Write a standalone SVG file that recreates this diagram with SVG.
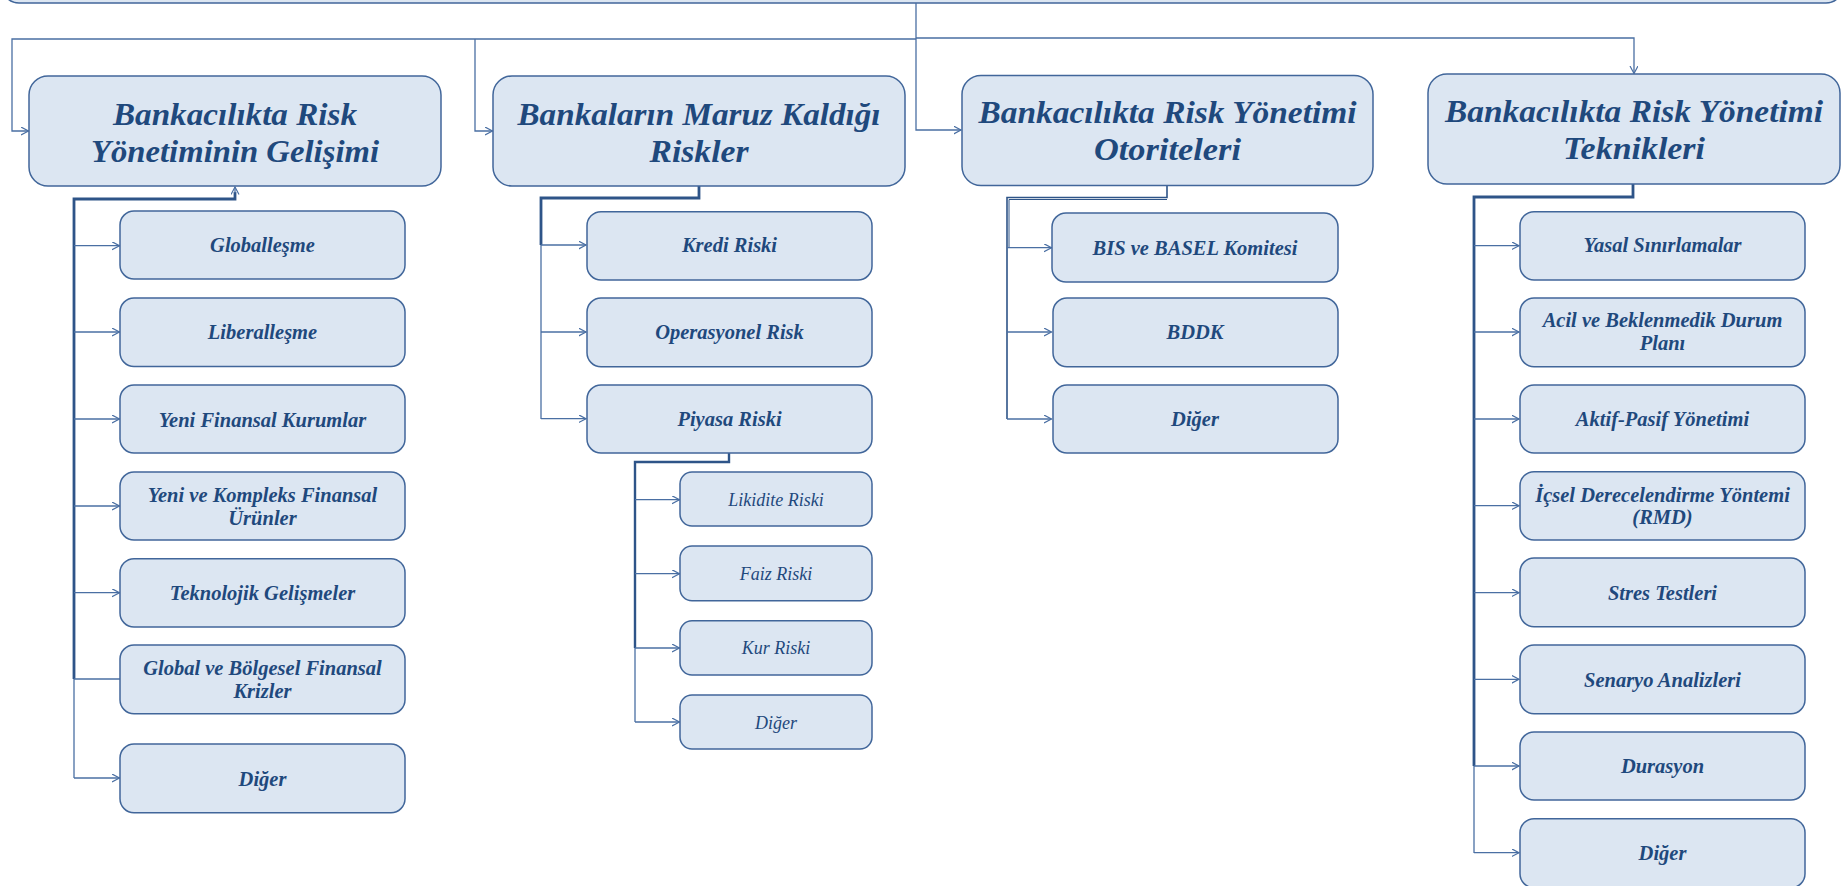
<svg xmlns="http://www.w3.org/2000/svg" width="1845" height="886" viewBox="0 0 1845 886">
<style>
.box{fill:#DCE6F2;stroke:#41669A;stroke-width:1.5}
.t{font-family:"Liberation Serif",serif;font-style:italic;font-weight:bold;fill:#1F497D;text-anchor:middle}
.h{font-size:32px}
.c{font-size:20.5px}
.s{font-size:18px;font-weight:normal}
.ln{fill:none;stroke:#4A6FA3;stroke-width:1.3}
.tk{fill:none;stroke:#2E5488;stroke-width:2.8}
.ar{marker-end:url(#arr)}
</style>
<defs>
<marker id="arr" markerUnits="userSpaceOnUse" markerWidth="10" markerHeight="10" refX="7.5" refY="4" orient="auto">
<path d="M0,0 L7.5,4 L0,8" fill="none" stroke="#4A6FA3" stroke-width="1.2"/>
</marker>
</defs>
<rect width="1845" height="886" fill="#ffffff"/>
<g id="top-node"><rect class="box" x="2" y="-60" width="1841" height="63" rx="17"/></g>
<g id="connectors">
<path class="ln ar" d="M916,3 V130 H961"/>
<path class="ln ar" d="M916,39 H12 V131 H28.5"/>
<path class="ln ar" d="M475,39 V131 H492.5"/>
<path class="ln ar" d="M916,38 H1634 V73.5"/>
<path class="tk" d="M74,679 V199 H235 V192"/>
<path class="ln ar" d="M235,193 V187"/>
<path class="ln" d="M74,679 V778"/>
<path class="ln ar" d="M74,245.7 H119.5"/>
<path class="ln ar" d="M74,332 H119.5"/>
<path class="ln ar" d="M74,419 H119.5"/>
<path class="ln ar" d="M74,506 H119.5"/>
<path class="ln ar" d="M74,592.7 H119.5"/>
<path class="ln" d="M74,679 H120"/>
<path class="ln ar" d="M74,778 H119.5"/>
<path class="tk" d="M699,186 V198 H541 V245"/>
<path class="ln" d="M541,245 V419"/>
<path class="ln ar" d="M541,245 H586"/>
<path class="ln ar" d="M541,332 H586"/>
<path class="ln ar" d="M541,418.7 H586"/>
<path class="tk" style="stroke-width:2.4" d="M729,453 V462 H635 V648"/>
<path class="ln" d="M635,648 V722"/>
<path class="ln ar" d="M635,499.7 H679.5"/>
<path class="ln ar" d="M635,573.7 H679.5"/>
<path class="ln ar" d="M635,648 H679.5"/>
<path class="ln ar" d="M635,722 H679.5"/>
<path class="ln" style="stroke:#2E5488;stroke-width:1.6" d="M1167,185 V197.5 H1007 V419"/>
<path class="ln" style="stroke:#2E5488;stroke-width:1" d="M1167,199.5 H1009 V247"/>
<path class="ln ar" d="M1007,247.7 H1051.5"/>
<path class="ln ar" d="M1007,332 H1051.5"/>
<path class="ln ar" d="M1007,419 H1051.5"/>
<path class="tk" d="M1633,183 V197 H1474 V766"/>
<path class="ln" d="M1474,766 V853"/>
<path class="ln ar" d="M1474,245.7 H1519"/>
<path class="ln ar" d="M1474,332 H1519"/>
<path class="ln ar" d="M1474,419 H1519"/>
<path class="ln ar" d="M1474,505.7 H1519"/>
<path class="ln ar" d="M1474,592.7 H1519"/>
<path class="ln ar" d="M1474,679.3 H1519"/>
<path class="ln ar" d="M1474,766 H1519"/>
<path class="ln ar" d="M1474,852.7 H1519"/>
</g>
<g id="n1"><rect class="box" x="29" y="76" width="412" height="110" rx="19"/>
<text class="t h" x="235" y="125" textLength="244" lengthAdjust="spacingAndGlyphs">Bankacılıkta Risk</text>
<text class="t h" x="235" y="162" textLength="288" lengthAdjust="spacingAndGlyphs">Yönetiminin Gelişimi</text></g>
<g id="n2"><rect class="box" x="493" y="76" width="412" height="110" rx="19"/>
<text class="t h" x="699" y="125" textLength="363" lengthAdjust="spacingAndGlyphs">Bankaların Maruz Kaldığı</text>
<text class="t h" x="699" y="162" textLength="99" lengthAdjust="spacingAndGlyphs">Riskler</text></g>
<g id="n3"><rect class="box" x="962" y="75.5" width="411" height="110" rx="19"/>
<text class="t h" x="1167.5" y="123" textLength="378" lengthAdjust="spacingAndGlyphs">Bankacılıkta Risk Yönetimi</text>
<text class="t h" x="1167.5" y="159.5" textLength="147" lengthAdjust="spacingAndGlyphs">Otoriteleri</text></g>
<g id="n4"><rect class="box" x="1428" y="74" width="412" height="110" rx="19"/>
<text class="t h" x="1634" y="122" textLength="378" lengthAdjust="spacingAndGlyphs">Bankacılıkta Risk Yönetimi</text>
<text class="t h" x="1634" y="158.5" textLength="142" lengthAdjust="spacingAndGlyphs">Teknikleri</text></g>
<g id="n1-1"><rect class="box" x="120" y="211" width="285" height="68" rx="14"/><text class="t c" x="262.5" y="251.7">Globalleşme</text></g>
<g id="n1-2"><rect class="box" x="120" y="298" width="285" height="68.5" rx="14"/><text class="t c" x="262.5" y="339.3">Liberalleşme</text></g>
<g id="n1-3"><rect class="box" x="120" y="385" width="285" height="68" rx="14"/><text class="t c" x="262.5" y="426.7">Yeni Finansal Kurumlar</text></g>
<g id="n1-4"><rect class="box" x="120" y="472" width="285" height="68" rx="14"/><text class="t c" x="262.5" y="501.7">Yeni ve Kompleks Finansal</text><text class="t c" x="262.5" y="525">Ürünler</text></g>
<g id="n1-5"><rect class="box" x="120" y="558.7" width="285" height="68.3" rx="14"/><text class="t c" x="262.5" y="600">Teknolojik Gelişmeler</text></g>
<g id="n1-6"><rect class="box" x="120" y="645" width="285" height="68.7" rx="14"/><text class="t c" x="262.5" y="675">Global ve Bölgesel Finansal</text><text class="t c" x="262.5" y="698">Krizler</text></g>
<g id="n1-7"><rect class="box" x="120" y="744" width="285" height="68.7" rx="14"/><text class="t c" x="262.5" y="785.7">Diğer</text></g>
<g id="n2-1"><rect class="box" x="587" y="211.7" width="285" height="68.3" rx="14"/><text class="t c" x="729.5" y="251.7">Kredi Riski</text></g>
<g id="n2-2"><rect class="box" x="587" y="298" width="285" height="68.7" rx="14"/><text class="t c" x="729.5" y="339">Operasyonel Risk</text></g>
<g id="n2-3"><rect class="box" x="587" y="385" width="285" height="68" rx="14"/><text class="t c" x="729.5" y="426">Piyasa Riski</text></g>
<g id="n2-3-1"><rect class="box" x="680" y="472" width="192" height="54" rx="12"/><text class="t s" x="776" y="506">Likidite Riski</text></g>
<g id="n2-3-2"><rect class="box" x="680" y="546" width="192" height="54.7" rx="12"/><text class="t s" x="776" y="580">Faiz Riski</text></g>
<g id="n2-3-3"><rect class="box" x="680" y="620.7" width="192" height="54.3" rx="12"/><text class="t s" x="776" y="654">Kur Riski</text></g>
<g id="n2-3-4"><rect class="box" x="680" y="695" width="192" height="54" rx="12"/><text class="t s" x="776" y="728.7">Diğer</text></g>
<g id="n3-1"><rect class="box" x="1052" y="213" width="286" height="69" rx="14"/><text class="t c" x="1195" y="255">BIS ve BASEL Komitesi</text></g>
<g id="n3-2"><rect class="box" x="1053" y="298" width="285" height="68.7" rx="14"/><text class="t c" x="1195" y="339">BDDK</text></g>
<g id="n3-3"><rect class="box" x="1053" y="385" width="285" height="68" rx="14"/><text class="t c" x="1195" y="426">Diğer</text></g>
<g id="n4-1"><rect class="box" x="1520" y="211.7" width="285" height="68.3" rx="14"/><text class="t c" x="1662.5" y="251.7">Yasal Sınırlamalar</text></g>
<g id="n4-2"><rect class="box" x="1520" y="298" width="285" height="68.7" rx="14"/><text class="t c" x="1662.5" y="327">Acil ve Beklenmedik Durum</text><text class="t c" x="1662.5" y="350">Planı</text></g>
<g id="n4-3"><rect class="box" x="1520" y="385" width="285" height="68" rx="14"/><text class="t c" x="1662.5" y="425.7">Aktif-Pasif Yönetimi</text></g>
<g id="n4-4"><rect class="box" x="1520" y="471.7" width="285" height="68.3" rx="14"/><text class="t c" x="1662.5" y="501.7">İçsel Derecelendirme Yöntemi</text><text class="t c" x="1662.5" y="524">(RMD)</text></g>
<g id="n4-5"><rect class="box" x="1520" y="558" width="285" height="68.7" rx="14"/><text class="t c" x="1662.5" y="600">Stres Testleri</text></g>
<g id="n4-6"><rect class="box" x="1520" y="645" width="285" height="68.7" rx="14"/><text class="t c" x="1662.5" y="686.7">Senaryo Analizleri</text></g>
<g id="n4-7"><rect class="box" x="1520" y="732" width="285" height="68" rx="14"/><text class="t c" x="1662.5" y="773">Durasyon</text></g>
<g id="n4-8"><rect class="box" x="1520" y="818.7" width="285" height="69" rx="14"/><text class="t c" x="1662.5" y="860">Diğer</text></g>
</svg>
